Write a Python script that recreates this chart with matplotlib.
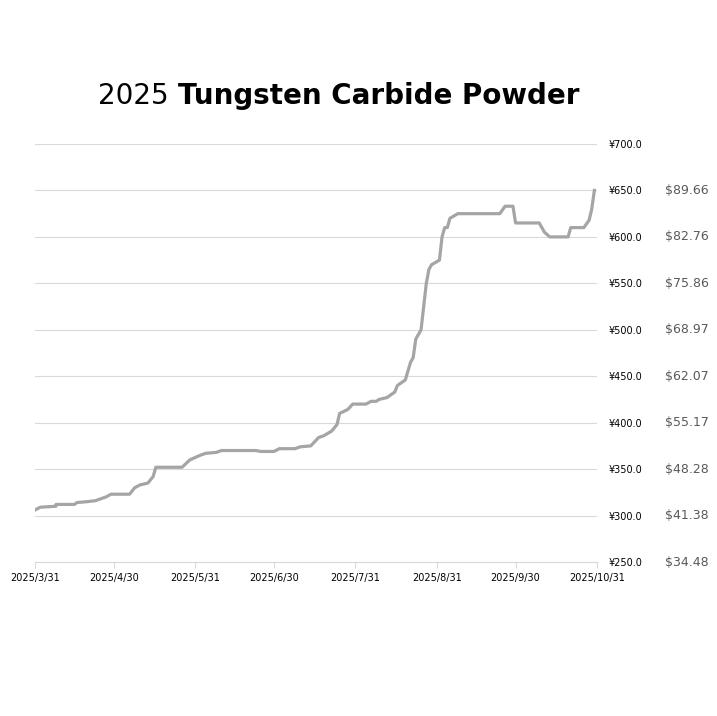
import numpy as np
import pandas as pd
import matplotlib
matplotlib.use('Agg')
import matplotlib.pyplot as plt
import matplotlib.dates as mdates

# days after 2025/3/31 and price in yuan
days = [0, 2, 8, 8, 15, 16, 20, 23, 25, 27, 29, 36, 38, 40, 43, 45, 46, 56, 59, 63, 65, 69, 71,
        84, 86, 91, 93, 99, 101, 105, 108, 110, 113, 115, 116, 119, 121, 126, 128, 130, 131, 134,
        137, 138, 141, 143, 144, 145, 147, 149, 150, 151, 154, 155, 156, 157, 158, 161, 177, 179,
        182, 183, 192, 194, 196, 203, 204, 209, 211, 212, 213]
price = [306, 309, 310, 312, 312, 314, 315, 316, 318, 320, 323, 323, 330, 333, 335, 342, 352, 352,
         360, 365, 367, 368, 370, 370, 369, 369, 372, 372, 374, 375, 384, 386, 391, 398, 410, 414,
         420, 420, 423, 423, 425, 427, 433, 440, 446, 465, 470, 490, 500, 550, 565, 570, 575, 600,
         610, 610, 620, 625, 625, 633, 633, 615, 615, 605, 600, 600, 610, 610, 618, 630, 650]
tick_dates = ['2025-03-31', '2025-04-30', '2025-05-31', '2025-06-30',
              '2025-07-31', '2025-08-31', '2025-09-30', '2025-10-31']
yen_ticks = [250, 300, 350, 400, 450, 500, 550, 600, 650, 700]
usd_ticks = [250, 300, 350, 400, 450, 500, 550, 600, 650]
rate = 7.25

start = pd.Timestamp('2025-03-31')
dates = [start + pd.Timedelta(days=d) for d in days]

fig = plt.figure(figsize=(7.17, 7.16), dpi=100)
ax = fig.add_axes([35 / 717, 1 - 562 / 716, 562 / 717, 418 / 716])
ax.plot(dates, price, color='#a5a5a5', lw=2.3, solid_joinstyle='round')
ax.set_ylim(250, 700)
ax.set_xlim(start, pd.Timestamp('2025-10-31'))
ax.set_yticks(yen_ticks)
ax.yaxis.tick_right()
ax.set_yticklabels(['¥%.1f' % v for v in yen_ticks], fontsize=7)
ax.tick_params(axis='y', length=0, pad=8)
ax.grid(axis='y', color='#d9d9d9', lw=0.8)
ax.set_xticks([pd.Timestamp(d) for d in tick_dates])
ax.set_xticklabels([pd.Timestamp(d).strftime('%Y/%-m/%d') for d in tick_dates], fontsize=7)
ax.tick_params(axis='x', length=4, color='#d9d9d9', pad=4)
for s in ['top', 'left', 'right']:
    ax.spines[s].set_visible(False)
ax.spines['bottom'].set_color('#d9d9d9')
ax.set_axisbelow(True)

for v in usd_ticks:
    ax.annotate('$%.2f' % (v / rate), xy=(1, v), xycoords=('axes fraction', 'data'),
                xytext=(49, 0), textcoords='offset points', ha='left', va='center',
                fontsize=9, color='#595959')

t1 = fig.text(0.137, 0.866, '2025 ', fontsize=20, ha='left', va='center')
fig.canvas.draw()
ax.annotate('Tungsten Carbide Powder', xy=(1, 0.5), xycoords=t1, ha='left', va='center',
            fontsize=20, fontweight='bold')

fig.savefig('out.png', dpi=100)
